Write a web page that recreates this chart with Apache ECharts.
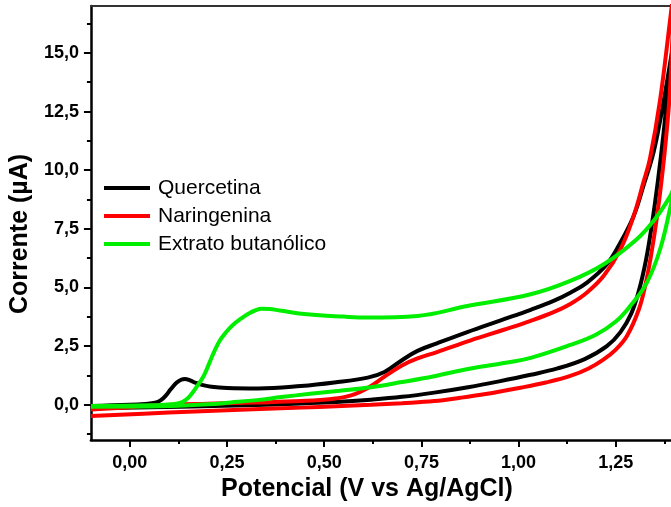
<!DOCTYPE html>
<html>
<head>
<meta charset="utf-8">
<script src="https://cdn.jsdelivr.net/npm/echarts@6/dist/echarts.min.js"></script>
<style>html,body{margin:0;padding:0;background:#fff}#c{width:671px;height:507px}</style>
</head>
<body>
<div id="c"></div>
<script>
// [potential (V), current (µA)] — forward scan then reverse scan
const quercetina = [
  [-0.1,-0.05],[0.0,0.0],[0.04,0.04],[0.065,0.09],[0.08,0.2],[0.093,0.4],[0.105,0.66],[0.12,0.94],[0.132,1.07],[0.142,1.1],
  [0.155,1.04],[0.17,0.93],[0.188,0.84],[0.21,0.77],[0.25,0.72],[0.33,0.7],[0.44,0.8],[0.526,0.95],[0.612,1.16],
  [0.655,1.4],[0.70,1.9],[0.74,2.3],[0.79,2.62],[0.868,3.1],[0.954,3.6],[1.031,4.05],[1.09,4.43],
  [1.133,4.78],[1.176,5.21],[1.227,5.99],[1.262,6.92],[1.296,8.05],[1.321,9.33],[1.347,10.76],
  [1.365,12.2],[1.381,13.7],[1.4,15.6],
  [1.387,13.9],[1.373,11.6],[1.358,9.5],[1.343,7.7],[1.328,6.2],[1.31,4.9],[1.29,3.9],[1.262,3.1],
  [1.227,2.5],[1.17,1.95],[1.1,1.55],[1.031,1.28],[0.95,1.0],[0.87,0.75],[0.783,0.52],[0.7,0.34],
  [0.62,0.22],[0.53,0.12],[0.44,0.06],[0.3,-0.02],[0.13,-0.08],[-0.1,-0.15]
];
const naringenina = [
  [-0.1,-0.2],[0.0,-0.1],[0.07,-0.02],[0.2,0.05],[0.327,0.1],[0.441,0.16],[0.52,0.25],[0.569,0.4],
  [0.612,0.72],[0.655,1.2],[0.70,1.68],[0.74,1.98],[0.79,2.25],[0.877,2.75],[0.962,3.2],[1.031,3.58],
  [1.09,3.95],[1.133,4.3],[1.176,4.79],[1.219,5.5],[1.262,6.63],[1.296,8.05],[1.321,9.48],[1.338,10.5],
  [1.364,13.0],[1.39,16.45],[1.4,17.8],
  [1.39,13.6],[1.38,11.5],[1.368,9.6],[1.355,7.9],[1.34,6.3],[1.326,5.1],[1.309,4.05],[1.279,2.94],
  [1.25,2.35],[1.219,1.94],[1.18,1.55],[1.133,1.23],[1.07,0.95],[1.005,0.73],[0.911,0.45],
  [0.85,0.3],[0.783,0.16],[0.7,0.07],[0.62,0.0],[0.53,-0.06],[0.441,-0.12],[0.3,-0.2],[0.1,-0.33],[-0.1,-0.48]
];
const extrato = [
  [-0.1,-0.05],[0.05,-0.02],[0.11,0.02],[0.135,0.12],[0.152,0.33],[0.17,0.72],[0.19,1.23],[0.205,1.8],
  [0.218,2.3],[0.232,2.75],[0.248,3.1],[0.265,3.4],[0.285,3.66],[0.305,3.88],[0.322,4.02],[0.34,4.09],
  [0.36,4.08],[0.385,4.02],[0.456,3.86],[0.55,3.76],[0.612,3.72],[0.74,3.79],[0.868,4.21],[1.031,4.71],
  [1.133,5.28],[1.219,5.99],[1.304,7.06],[1.35,7.9],[1.39,8.9],[1.4,9.3],
  [1.39,8.4],[1.364,6.63],[1.33,5.21],[1.287,4.21],[1.25,3.55],[1.2,3.0],[1.133,2.55],[1.031,2.0],
  [0.962,1.78],[0.877,1.55],[0.783,1.22],[0.7,0.97],[0.62,0.75],[0.54,0.6],[0.464,0.47],[0.39,0.33],
  [0.327,0.2],[0.26,0.1],[0.2,0.02],[0.05,-0.07],[-0.1,-0.08]
];
const seriesNames = ['Quercetina', 'Naringenina', 'Extrato butanólico'];
const xMajorTicks = [0, 0.25, 0.5, 0.75, 1.0, 1.25];
const xMinorTicks = [0.125, 0.375, 0.625, 0.875, 1.125, 1.375];
const yMajorTicks = [0, 2.5, 5, 7.5, 10, 12.5, 15];
const yMinorTicks = [-1.25, 1.25, 3.75, 6.25, 8.75, 11.25, 13.75, 16.25];

const chart = echarts.init(document.getElementById('c'));
const font = 'Arial, "Liberation Sans", sans-serif';
const fmt = d => v => v.toFixed(d).replace('.', ',');
const X = {min: -0.1, max: 1.392};
const Y = {min: -1.5, max: 17};
chart.setOption({
  animation: false,
  backgroundColor: '#fff',
  grid: {left: 89, top: 6, right: 0, bottom: 67, containLabel: false},
  legend: {
    orient: 'vertical', left: 104, top: 176, padding: 0, itemGap: 4,
    itemWidth: 46, itemHeight: 4, icon: 'rect',
    textStyle: {fontFamily: font, fontSize: 21, color: '#000', lineHeight: 24, padding: [0,0,0,3]},
    data: seriesNames
  },
  xAxis: [
    {type: 'value', min: X.min, max: X.max, position: 'bottom',
     axisLine: {onZero: false, lineStyle: {color: '#000', width: 2.5}},
     axisTick: {customValues: xMajorTicks, length: 7, lineStyle: {color: '#000', width: 2}},
     axisLabel: {customValues: xMajorTicks, formatter: fmt(2), margin: 14, color: '#000',
                 fontFamily: font, fontSize: 18, fontWeight: 'bold'},
     splitLine: {show: false},
     name: 'Potencial (V vs Ag/AgCl)', nameLocation: 'middle', nameGap: 36,
     nameTextStyle: {fontFamily: font, fontSize: 25, fontWeight: 'bold', color: '#000', padding: [0, 28, 0, 0]}
    },
    {type: 'value', min: X.min, max: X.max, position: 'bottom',
     axisLine: {show: false, onZero: false},
     axisTick: {customValues: xMinorTicks, length: 4, lineStyle: {color: '#000', width: 2}},
     axisLabel: {show: false}, splitLine: {show: false}
    },
    {type: 'value', min: X.min, max: X.max, position: 'top',
     axisLine: {onZero: false, lineStyle: {color: '#333', width: 2}},
     axisTick: {show: false}, axisLabel: {show: false}, splitLine: {show: false}
    }
  ],
  yAxis: [
    {type: 'value', min: Y.min, max: Y.max, position: 'left',
     axisLine: {show: true, onZero: false, lineStyle: {color: '#000', width: 2.5}},
     axisTick: {show: true, customValues: yMajorTicks, length: 7, lineStyle: {color: '#000', width: 2}},
     axisLabel: {customValues: yMajorTicks, formatter: fmt(1), margin: 12, color: '#000',
                 fontFamily: font, fontSize: 18, fontWeight: 'bold'},
     splitLine: {show: false},
     name: 'Corrente (µA)', nameLocation: 'middle', nameGap: 53,
     nameTextStyle: {fontFamily: font, fontSize: 25, fontWeight: 'bold', color: '#000', padding: [0, 22, 0, 0]}
    },
    {type: 'value', min: Y.min, max: Y.max, position: 'left',
     axisLine: {show: false, onZero: false},
     axisTick: {show: true, customValues: yMinorTicks, length: 4, lineStyle: {color: '#000', width: 2}},
     axisLabel: {show: false}, splitLine: {show: false}
    }
  ],
  series: [
    {name: seriesNames[0], data: quercetina, color: '#000000'},
    {name: seriesNames[1], data: naringenina, color: '#ff0000'},
    {name: seriesNames[2], data: extrato, color: '#00ee00'}
  ].map(s => Object.assign({
    type: 'line', xAxisIndex: 0, yAxisIndex: 0, showSymbol: false, smooth: 0.4,
    clip: true, lineStyle: {width: 4, color: s.color}, itemStyle: {color: s.color}
  }, s))
});
</script>
</body>
</html>
